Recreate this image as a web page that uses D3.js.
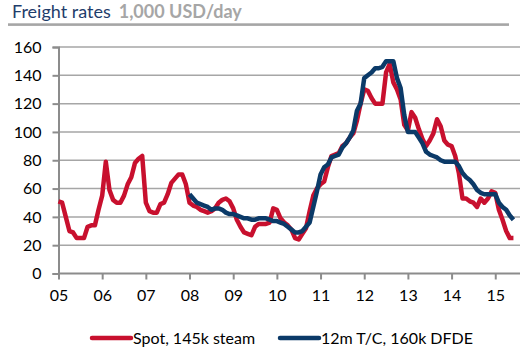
<!DOCTYPE html>
<html>
<head>
<meta charset="utf-8">
<script src="https://cdn.jsdelivr.net/npm/d3@7"></script>
<style>
  body { margin: 0; background: #fff; }
  svg { display: block; font-family: Lato, "Open Sans", sans-serif; }
</style>
</head>
<body>
<div id="vizcontainer"></div>
<script>
// monthly values, 1,000 USD/day, Jan 2005 onwards
const spot = [
  51, 50, 40, 30, 29, 25, 25, 25, 33, 34, 34, 45,
  55, 79, 59, 52, 50, 50, 55, 63, 68, 78, 81, 83,
  50, 44, 43, 43, 49, 50, 56, 64, 67, 70, 70, 63,
  50, 48, 47, 45, 44, 43, 44, 46, 50, 52, 53, 51,
  46, 38, 33, 29, 28, 27, 33, 35, 35, 35, 36, 46,
  45, 39, 36, 34, 31, 25, 24, 28, 32, 44, 55, 60,
  63, 65, 75, 83, 84, 85, 90, 92, 96, 99, 108, 120,
  130, 129, 124, 120, 120, 120, 142, 148, 135, 130, 123, 105,
  101, 114, 110, 102, 95, 90, 94, 99, 109, 104, 94, 91,
  90, 83, 71, 53, 53, 51, 50, 47, 53, 50, 53, 58,
  57, 45, 38, 30, 25, 25
];

// 12m T/C starts Jan 2008 (month 36)
const tcStart = 36;
const tc = [
  56, 53, 50, 49, 48, 47, 45, 46, 46, 45, 43, 42,
  42, 41, 40, 39, 39, 38, 38, 39, 39, 39, 38, 37,
  37, 36, 35, 33, 31, 29, 29, 30, 33, 36, 47, 58,
  70, 75, 77, 82, 83, 84, 89, 92, 96, 101, 115, 120,
  138, 140, 142, 145, 145, 146, 150, 150, 150, 138, 131, 112,
  100, 100, 100, 96, 92, 86, 84, 83, 82, 80, 79, 79,
  79, 79, 76, 71, 68, 66, 63, 59, 57, 56, 56, 56,
  56, 50, 47, 45, 41, 38
];

const years = ['05','06','07','08','09','10','11','12','13','14','15'];
const yTicks = [0, 20, 40, 60, 80, 100, 120, 140, 160];
const seriesNames = ['Spot, 145k steam', '12m T/C, 160k DFDE'];
const colors = ['#c8102e', '#0b3a68'];

const width = 530,
  height = 351;

let viz = d3.select('#vizcontainer')
  .append('svg')
  .attr('width', width)
  .attr('height', height);

const x = d3.scaleLinear()
  .domain([0, 126.8])
  .range([58.5, 520]);

const y = d3.scaleLinear()
  .domain([0, 160])
  .range([273.5, 47]);

// title
const title = viz.append('text')
  .attr('x', 12)
  .attr('y', 18)
  .style('font-size', '18px');
title.append('tspan').attr('fill', '#1f3d6b').text('Freight rates');
title.append('tspan').attr('fill', '#a6a6a6').attr('font-weight', 'bold').attr('dx', 8).text('1,000 USD/day');

viz.append('rect')
  .attr('x', 8).attr('y', 23.3)
  .attr('width', 501).attr('height', 2.6)
  .attr('fill', '#a6a6a6');

// gridlines
viz.append('g')
  .selectAll('line')
  .data(yTicks.slice(1))
  .join('line')
  .attr('x1', x.range()[0]).attr('x2', x.range()[1])
  .attr('y1', d => y(d)).attr('y2', d => y(d))
  .attr('stroke', '#a6a6a6')
  .attr('stroke-width', 1.5);

// y axis
const yAxis = viz.append('g')
  .attr('transform', `translate(${x.range()[0]},0)`)
  .call(d3.axisLeft(y).tickValues(yTicks).tickSize(6).tickPadding(11));

// x axis
const xAxis = viz.append('g')
  .attr('transform', `translate(0,${y(0)})`)
  .call(d3.axisBottom(x)
    .tickValues(years.map((d, i) => i * 12))
    .tickFormat((d, i) => years[i])
    .tickSize(6)
    .tickPadding(10));

xAxis.select('.domain').attr('d', `M${x.range()[0]},0H${x.range()[1]}`);

viz.selectAll('.domain, .tick line')
  .attr('stroke', '#8c8c8c')
  .attr('stroke-width', 2);
viz.selectAll('.tick text')
  .attr('fill', '#000')
  .style('font-family', 'Lato, "Open Sans", sans-serif')
  .style('font-size', '16px');

// lines
const line = d3.line()
  .x(d => x(d[0]))
  .y(d => y(d[1]));

const spotPts = spot.map((v, i) => [i, v]);
const tcPts = tc.map((v, i) => [i + tcStart, v]);

viz.append('path')
  .datum(spotPts)
  .attr('d', line)
  .attr('fill', 'none')
  .attr('stroke', colors[0])
  .attr('stroke-width', 4.5)
  .attr('stroke-linejoin', 'round');

viz.append('path')
  .datum(tcPts)
  .attr('d', line)
  .attr('fill', 'none')
  .attr('stroke', colors[1])
  .attr('stroke-width', 4.5)
  .attr('stroke-linejoin', 'round');

// legend
const legendX = [92, 280];
const lg = viz.append('g')
  .selectAll('g')
  .data(seriesNames)
  .join('g')
  .attr('transform', (d, i) => `translate(${legendX[i]},338)`);

lg.append('line')
  .attr('x1', 0).attr('x2', 39)
  .attr('stroke', (d, i) => colors[i])
  .attr('stroke-width', 4.5)
  .attr('stroke-linecap', 'round');

lg.append('text')
  .attr('x', 41)
  .attr('y', 5.5)
  .style('font-size', '16px')
  .attr('fill', '#000')
  .text(d => d);
</script>
</body>
</html>
